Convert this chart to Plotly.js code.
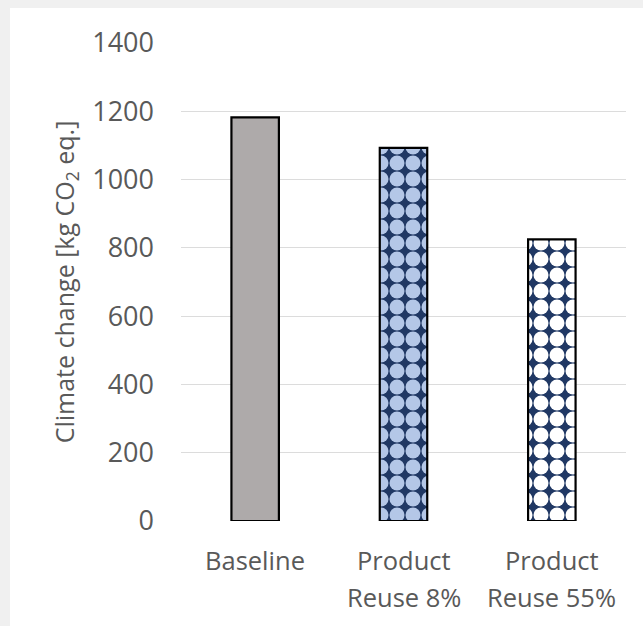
<!DOCTYPE html>
<html>
<head>
<meta charset="utf-8">
<script src="https://cdn.plot.ly/plotly-3.0.1.min.js"></script>
<style>
  html, body { margin: 0; padding: 0; background: #f0f0f0; width: 643px; height: 626px; overflow: hidden; }
  #chart { position: absolute; left: 10px; top: 8px; width: 633px; height: 618px; background: #ffffff; }
</style>
</head>
<body>
<div id="chart"></div>
<script>
const categories = ["Baseline", "Product Reuse 8%", "Product Reuse 55%"];
const labelLines = [["Baseline"], ["Product", "Reuse 8%"], ["Product", "Reuse 55%"]];
const values = [1182, 1093, 825];
const fillColors = ["#aeaaaa", "#b4c7e7", "#ffffff"];
const yTicks = [0, 200, 400, 600, 800, 1000, 1200, 1400];

const fontFam = "'Open Sans', 'Noto Sans', sans-serif";
const gray = "#595959";

const traces = categories.map((c, i) => {
  const marker = {
    color: fillColors[i],
    line: { color: "#000000", width: 2.2 }
  };
  if (i > 0) {
    marker.pattern = {
      shape: ".",
      fgcolor: fillColors[i],
      bgcolor: "#203864",
      size: 16,
      solidity: 0.69,
      fillmode: "replace"
    };
  }
  return {
    type: "bar",
    x: [c],
    y: [values[i]],
    width: 0.32,
    marker: marker,
    hoverinfo: "skip",
    showlegend: false
  };
});

const annotations = [];
labelLines.forEach((lines, i) => {
  lines.forEach((t, j) => {
    annotations.push({
      x: categories[i], xref: "x",
      y: 0, yref: "paper",
      yanchor: "middle",
      text: t,
      showarrow: false,
      yshift: -39 - 37 * j,
      font: { family: fontFam, size: 25.5, color: gray }
    });
  });
});

const layout = {
  width: 633,
  height: 618,
  margin: { l: 171, r: 17, t: 35, b: 105 },
  paper_bgcolor: "#ffffff",
  plot_bgcolor: "#ffffff",
  font: { family: fontFam, color: gray, size: 24 },
  annotations: annotations,
  xaxis: {
    type: "category",
    categoryorder: "array",
    categoryarray: categories,
    showgrid: false,
    zeroline: false,
    showline: false,
    showticklabels: false,
    ticks: "",
    automargin: false
  },
  yaxis: {
    range: [0, 1400],
    tickvals: yTicks,
    ticktext: yTicks.map(String),
    showgrid: true,
    gridcolor: "#dcdcdc",
    gridwidth: 1.2,
    zeroline: false,
    showline: false,
    ticks: "",
    ticklabelstandoff: 26,
    tickfont: { family: fontFam, size: 27, color: gray },
    automargin: false,
    title: {
      text: "Climate change [kg CO<sub>2</sub> eq.]",
      font: { family: fontFam, size: 25, color: gray },
      standoff: 10
    }
  }
};

Plotly.newPlot("chart", traces, layout, { displayModeBar: false, staticPlot: true });
</script>
</body>
</html>
